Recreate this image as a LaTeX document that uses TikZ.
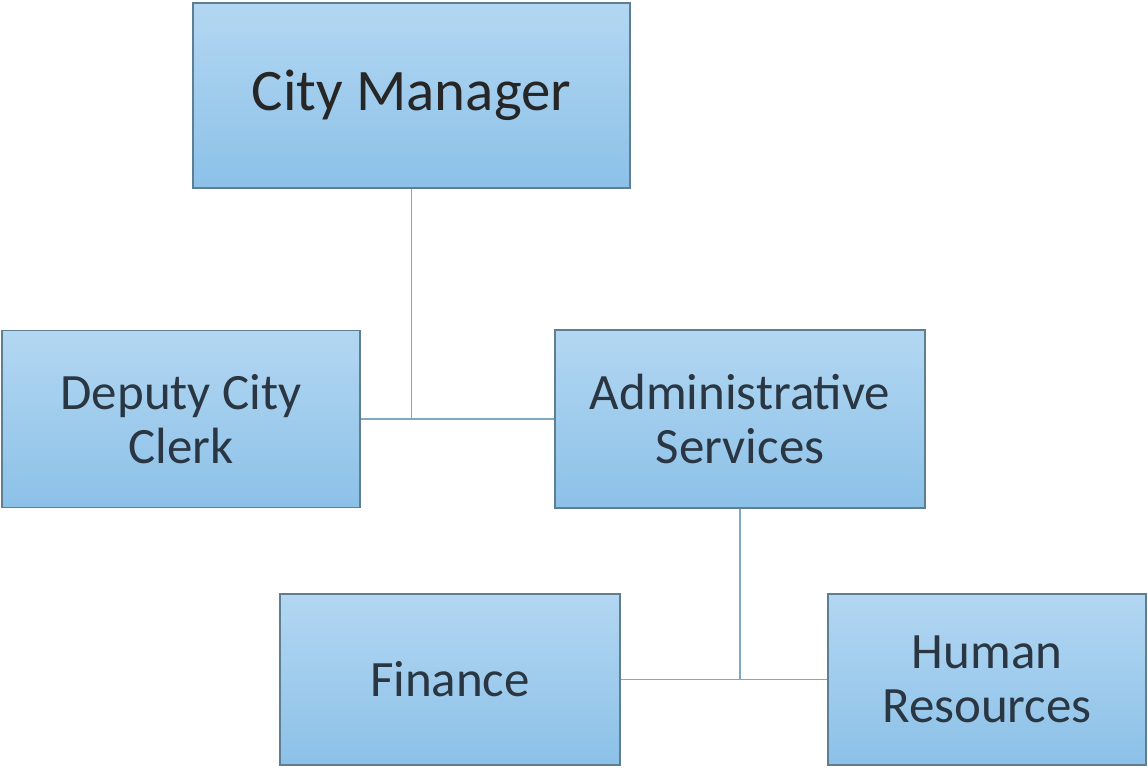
\documentclass[tikz,border=0pt]{standalone}
\usepackage{fontspec}
\setmainfont{Carlito}
\begin{document}
\begin{tikzpicture}[x=0.02cm,y=-0.02cm,
  box/.style={draw=boxedge, line width=0.7pt, top color=boxtop, bottom color=boxbot,
    inner sep=0pt, align=center, text=boxtext,
    font=\fontsize{29}{30.6}\selectfont},
  link/.style={draw=linkcol, line width=0.8pt}]
\definecolor{boxtop}{HTML}{B3D7F2}
\definecolor{boxbot}{HTML}{8CC1E8}
\definecolor{boxedge}{HTML}{5E7E94}
\definecolor{boxtext}{HTML}{2A3642}
\definecolor{linkcol}{HTML}{7FA8C4}
\useasboundingbox[fill=white] (0,0) rectangle (1148,769);
\node[box, minimum width=437*0.02cm, minimum height=185*0.02cm, text=black!85,
  font=\fontsize{33.5}{34}\selectfont] (cm) at (411.5,95.5) {City Manager};
\node[box, minimum width=358*0.02cm, minimum height=177*0.02cm] (dcc) at (181,419) {Deputy City\\Clerk};
\node[box, minimum width=370*0.02cm, minimum height=178*0.02cm] (as) at (740,419) {Administrative\\Services};
\node[box, minimum width=340*0.02cm, minimum height=171*0.02cm] (fin) at (450,679.5) {Finance};
\node[box, minimum width=318*0.02cm, minimum height=171*0.02cm] (hr) at (987,679.5) {Human\\Resources};
\draw[link] (cm.south) -- (cm.south |- dcc.east);
\draw[link] (dcc.east) -- (as.west);
\draw[link] (as.south) -- (as.south |- fin.east);
\draw[link] (fin.east) -- (hr.west);
\end{tikzpicture}
\end{document}
